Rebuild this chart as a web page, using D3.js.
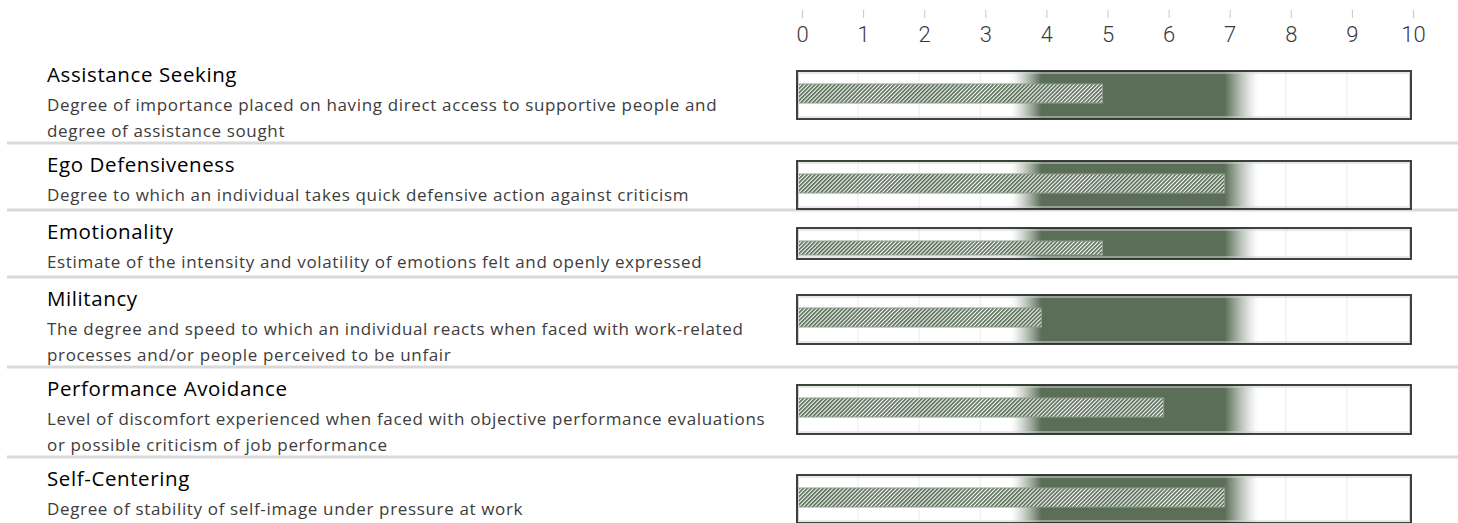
<!DOCTYPE html>
<html>
<head>
<meta charset="utf-8">
<script src="https://cdn.jsdelivr.net/npm/d3@7"></script>
<style>
  body { margin: 0; background: #fff; }
  svg { display: block; font-family: "Open Sans", sans-serif; }
  .axis text { font-family: Roboto, "Open Sans", sans-serif; font-weight: 300; font-size: 22px; fill: #3a3a3a; }
  .axis line { stroke: #c8c8c8; }
  .axis .domain { display: none; }
</style>
</head>
<body>
<div id="chart-area"></div>
<script>
// data
var traits = ["Assistance Seeking", "Ego Defensiveness", "Emotionality", "Militancy",
  "Performance Avoidance", "Self-Centering"];
var descriptions = [
  ["Degree of importance placed on having direct access to supportive people and", "degree of assistance sought"],
  ["Degree to which an individual takes quick defensive action against criticism"],
  ["Estimate of the intensity and volatility of emotions felt and openly expressed"],
  ["The degree and speed to which an individual reacts when faced with work-related", "processes and/or people perceived to be unfair"],
  ["Level of discomfort experienced when faced with objective performance evaluations", "or possible criticism of job performance"],
  ["Degree of stability of self-image under pressure at work"]
];
var scores = [5, 7, 5, 4, 6, 7];
var normRange = [4, 7];      // solid band
var normFade = 0.5;          // soft edge on each side
var tickValues = [0, 1, 2, 3, 4, 5, 6, 7, 8, 9, 10];

// layout
var width = 1458, height = 523;
var boxHeights = [48, 48, 31, 49, 49, 48];
var green = "#5a6e58";

var svg = d3.select("#chart-area").append("svg")
  .attr("width", width)
  .attr("height", height);

var x = d3.scaleLinear().domain([0, 10]).range([797, 1408]);

// row tops from number of description lines
var rowTops = [];
var rowY = 55;
descriptions.forEach(function (d) {
  rowTops.push(rowY);
  rowY += d.length > 1 ? 90 : 67;
});

var defs = svg.append("defs");

var hatch = defs.append("pattern")
  .attr("id", "hatch")
  .attr("patternUnits", "userSpaceOnUse")
  .attr("width", 2.8)
  .attr("height", 10)
  .attr("patternTransform", "rotate(45)");
hatch.append("rect").attr("width", 2.8).attr("height", 10).attr("fill", "#fff");
hatch.append("rect").attr("width", 1.7).attr("height", 10).attr("fill", green);

var grad = defs.append("linearGradient")
  .attr("id", "band")
  .attr("gradientUnits", "userSpaceOnUse")
  .attr("x1", x(normRange[0] - normFade))
  .attr("x2", x(normRange[1] + normFade + 0.05));
var span = (normRange[1] - normRange[0]) + 2 * normFade + 0.05;
var fadeFrac = normFade / span;
var fadeFracR = (normFade + 0.05) / span;
var steps = d3.range(0, 1.0001, 0.1);
steps.forEach(function (t) {
  grad.append("stop").attr("offset", t * fadeFrac)
    .attr("stop-color", green).attr("stop-opacity", Math.pow(t, 1.3));
});
steps.forEach(function (t) {
  grad.append("stop").attr("offset", 1 - fadeFracR + t * fadeFracR)
    .attr("stop-color", green).attr("stop-opacity", Math.pow(1 - t, 1.3));
});

// axis on top
var axisCall = d3.axisBottom(x).tickValues(tickValues).tickSize(8).tickPadding(8)
  .tickFormat(d3.format("d"));
svg.append("g")
  .attr("class", "axis")
  .attr("transform", "translate(5,10)")
  .call(axisCall);

// separators
svg.selectAll("line.sep").data(rowTops.slice(1)).enter().append("line")
  .attr("class", "sep")
  .attr("x1", 7).attr("x2", width)
  .attr("y1", function (d) { return d - 2; })
  .attr("y2", function (d) { return d - 2; })
  .attr("stroke", "#d9d9d9")
  .attr("stroke-width", 3);

var rows = svg.selectAll("g.row").data(traits).enter().append("g")
  .attr("class", "row")
  .attr("transform", function (d, i) { return "translate(0," + rowTops[i] + ")"; });

rows.append("text")
  .attr("x", 47).attr("y", 27)
  .attr("font-size", "20.5px")
  .attr("letter-spacing", "0.6px")
  .attr("fill", "#000")
  .text(function (d) { return d; });

rows.each(function (d, i) {
  var g = d3.select(this);
  descriptions[i].forEach(function (line, j) {
    g.append("text")
      .attr("x", 47).attr("y", 56 + j * 26)
      .attr("font-size", "17px")
      .attr("letter-spacing", "0.65px")
      .attr("fill", "#3c3c3c")
      .text(line);
  });

  var bh = boxHeights[i];
  var by = 16;
  var bw = x(10) - x(0) + 3;
  g.append("rect")
    .attr("x", x(0)).attr("y", by)
    .attr("width", bw).attr("height", bh)
    .attr("fill", "#fff");

  // gridlines
  g.selectAll("line.grid").data(tickValues.slice(1, -1)).enter().append("line")
    .attr("x1", function (v) { return x(v); })
    .attr("x2", function (v) { return x(v); })
    .attr("y1", by).attr("y2", by + bh)
    .attr("stroke", "#ececec");

  g.append("rect")
    .attr("x", x(normRange[0] - normFade)).attr("y", by)
    .attr("width", x(normRange[1] + normFade + 0.05) - x(normRange[0] - normFade))
    .attr("height", bh)
    .attr("fill", "url(#band)");

  var hh = Math.min(19, bh - 17);
  g.append("rect")
    .attr("x", x(0)).attr("y", by + 13)
    .attr("width", x(scores[i]) - x(0)).attr("height", hh)
    .attr("fill", "url(#hatch)")
    .attr("stroke", "#8d9e8b")
    .attr("stroke-width", 1);

  // inner light bevel and dark frame
  g.append("rect")
    .attr("x", x(0) + 1.5).attr("y", by + 2)
    .attr("width", bw - 3).attr("height", bh - 4)
    .attr("fill", "none")
    .attr("stroke", "#d2d2d2")
    .attr("stroke-width", 1);
  g.append("rect")
    .attr("x", x(0)).attr("y", by)
    .attr("width", bw).attr("height", bh)
    .attr("fill", "none")
    .attr("stroke", "#263026")
    .attr("stroke-width", 1.8);
});
</script>
</body>
</html>
